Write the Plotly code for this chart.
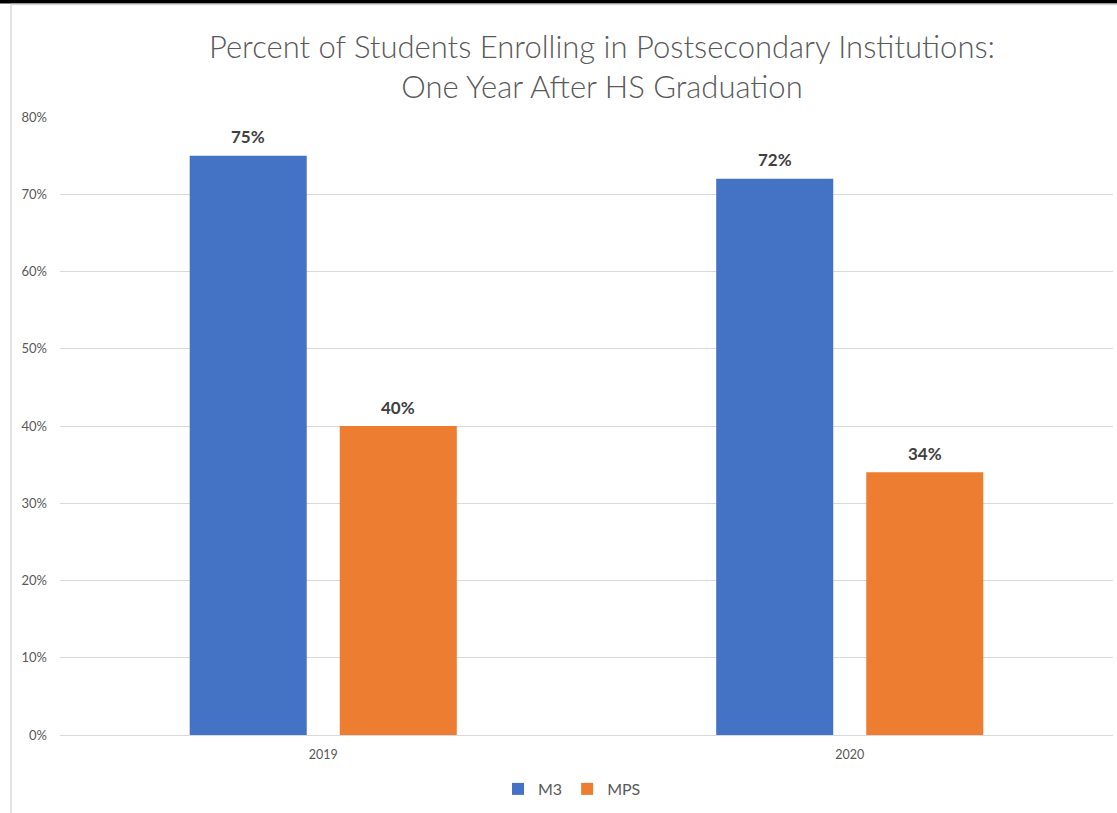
import plotly.graph_objects as go

categories = ["2019", "2020"]
m3_values = [75, 72]
mps_values = [40, 34]
series_names = ["M3", "MPS"]
series_colors = ["#4472C4", "#ED7D31"]
y_ticks = [0, 10, 20, 30, 40, 50, 60, 70, 80]
y_tick_labels = [f"{v}%" for v in y_ticks]

W, H = 1117, 813
L, R, T, B = 60, 4, 117, 78
pw, ph = W - L - R, H - T - B
BARGAP, GROUPGAP = 0.43, 0.22

def px_x(x):
    return (x - L) / pw

def px_y(y):
    return (H - B - y) / ph

fig = go.Figure()
all_values = [m3_values, mps_values]
for name, vals, col in zip(series_names, all_values, series_colors):
    fig.add_trace(go.Bar(
        x=categories, y=vals, name=name,
        marker=dict(color=col, line=dict(width=0)),
    ))

# data labels above bars (positioned from the data values)
n_cat, n_ser = len(categories), len(series_names)
slot = (1 - BARGAP) / n_ser  # slot width in category units
for i, vals in enumerate(all_values):
    offset = (i - (n_ser - 1) / 2) * slot
    for ci, v in enumerate(vals):
        fig.add_annotation(
            x=ci + offset, y=v, xref="x", yref="y", text=f"{v}%",
            showarrow=False, yshift=19,
            xanchor="center", yanchor="middle",
            font=dict(family="Lato", size=17, color="#404040", weight="bold"),
        )

fig.update_layout(
    width=W, height=H,
    margin=dict(l=L, r=R, t=T, b=B, pad=0),
    paper_bgcolor="white", plot_bgcolor="white",
    bargap=BARGAP, bargroupgap=GROUPGAP,
    font=dict(family="Lato", color="#595959"),
    title=dict(
        text="Percent of Students Enrolling in Postsecondary Institutions:<br>One Year After HS Graduation",
        x=px_x(602), xref="paper", xanchor="center",
        y=1 - 58 / H, yref="container", yanchor="middle",
        font=dict(family="Lato", size=31, color="#595959", weight=300),
    ),
    xaxis=dict(
        type="category", range=[-0.5, n_cat - 0.5],
        showgrid=False, showline=True, linecolor="#D9D9D9", linewidth=1,
        ticks="", tickfont=dict(size=12.5, color="#595959"),
        ticklabelstandoff=8,
    ),
    yaxis=dict(
        range=[0, 80], tickvals=y_ticks, ticktext=y_tick_labels,
        showgrid=True, gridcolor="#D9D9D9", gridwidth=1,
        zeroline=True, zerolinecolor="#D9D9D9", zerolinewidth=1,
        showline=False, ticks="", ticklabelstandoff=12,
        tickfont=dict(size=13, color="#595959"),
    ),
    legend=dict(
        orientation="h", x=px_x(572), xanchor="center",
        y=px_y(789), yanchor="middle",
        font=dict(size=16, color="#595959"),
        itemwidth=30, traceorder="normal",
    ),
    showlegend=True,
)

# frame: black strip at top, thin grey border top and left
fig.add_shape(type="rect", xref="paper", yref="paper",
              x0=px_x(-5), x1=px_x(W + 5), y0=px_y(3.5), y1=px_y(-5),
              fillcolor="black", line=dict(width=0), layer="above")
fig.add_shape(type="line", xref="paper", yref="paper",
              x0=px_x(11), x1=px_x(W + 5), y0=px_y(4.5), y1=px_y(4.5),
              line=dict(color="#D9D9D9", width=1.5))
fig.add_shape(type="line", xref="paper", yref="paper",
              x0=px_x(11), x1=px_x(11), y0=px_y(4.5), y1=px_y(H + 5),
              line=dict(color="#D9D9D9", width=1.5))

fig.write_html("out.html", config={"displayModeBar": False},
               post_script="document.body.style.margin='0';")
